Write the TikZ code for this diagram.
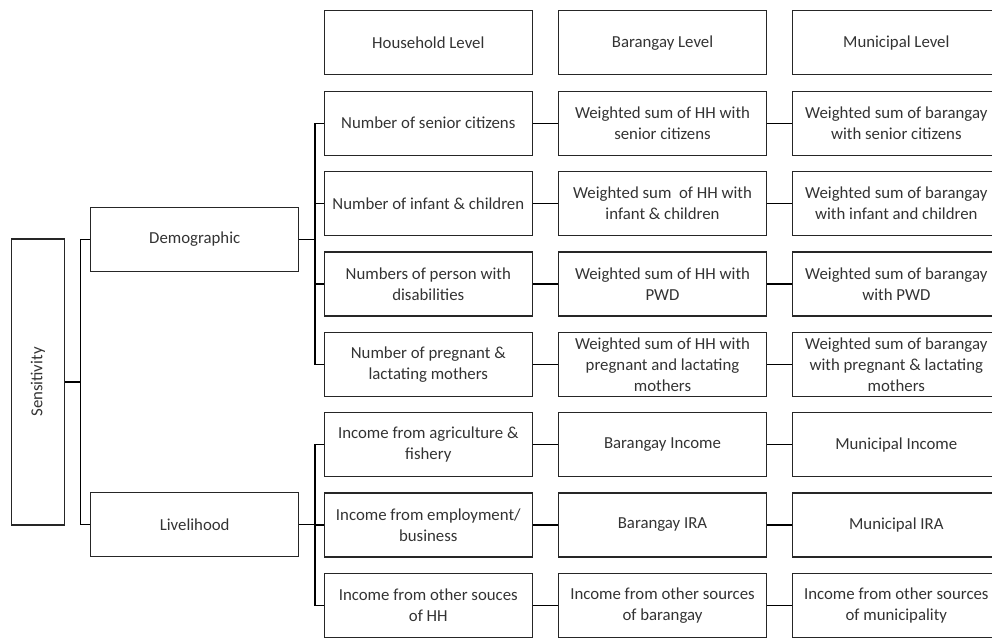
\documentclass[tikz,border=0pt]{standalone}
\usepackage{fontspec}
\setmainfont{Carlito}
\begin{document}
\begin{tikzpicture}[x=0.75pt,y=-0.75pt,
  box/.style={draw=black!85, line width=0.9pt, minimum width=156pt, minimum height=48pt,
    align=center, inner sep=0pt, text=black!80, font=\fontsize{12.6}{15.8}\selectfont},
  link/.style={draw=black, line width=0.9pt}]
\useasboundingbox (0,0) rectangle (992,637);

% bus positions
\coordinate (b0) at (80.7,0);
\coordinate (b1) at (315,0);

% root and first split
\node[box, minimum width=214.5pt, minimum height=39.5pt, rotate=90] (sens) at (38,382) {Sensitivity};
\node[box] (demo) at (194.7,239.3) {Demographic};
\node[box] (live) at (194.7,524.7) {Livelihood};

% column headers
\node[box] (h1) at (428.3,42.7) {Household Level};
\node[box] (h2) at (662.5,42.7) {Barangay Level};
\node[box] (h3) at (896.3,42.7) {Municipal Level};

% household level indicators
\node[box] (hh1) at (428.3,123.2) {Number of senior citizens};
\node[box] (hh2) at (428.3,203.6) {Number of infant \& children};
\node[box] (hh3) at (428.3,284.0) {Numbers of person with\\disabilities};
\node[box] (hh4) at (428.3,364.3) {Number of pregnant \&\\lactating mothers};
\node[box] (hh5) at (428.3,444.7) {Income from agriculture \&\\fishery};
\node[box] (hh6) at (428.3,525.0) {Income from employment/\\business};
\node[box] (hh7) at (428.3,605.4) {Income from other souces\\of HH};

% barangay level indicators
\node[box] (br1) at (662.5,123.2) {Weighted sum of HH with\\senior citizens};
\node[box] (br2) at (662.5,203.6) {Weighted sum \ of HH with\\infant \& children};
\node[box] (br3) at (662.5,284.0) {Weighted sum of HH with\\PWD};
\node[box] (br4) at (662.5,364.3) {Weighted sum of HH with\\pregnant and lactating\\mothers};
\node[box] (br5) at (662.5,444.7) {Barangay Income};
\node[box] (br6) at (662.5,525.0) {Barangay IRA};
\node[box] (br7) at (662.5,605.4) {Income from other sources\\of barangay};

% municipal level indicators
\node[box] (mu1) at (896.3,123.2) {Weighted sum of barangay\\with senior citizens};
\node[box] (mu2) at (896.3,203.6) {Weighted sum of barangay\\with infant and children};
\node[box] (mu3) at (896.3,284.0) {Weighted sum of barangay\\with PWD};
\node[box] (mu4) at (896.3,364.3) {Weighted sum of barangay\\with pregnant \& lactating\\mothers};
\node[box] (mu5) at (896.3,444.7) {Municipal Income};
\node[box] (mu6) at (896.3,525.0) {Municipal IRA};
\node[box] (mu7) at (896.3,605.4) {Income from other sources\\of municipality};

% root to first split
\draw[link] (sens.south) -- (sens.south -| b0);
\draw[link] (demo.west) -- (demo.west -| b0) -- (live.west -| b0) -- (live.west);

% demographic branch
\draw[link] (demo.east) -- (demo.east -| b1);
\draw[link] (hh1.west) -- (hh1.west -| b1) -- (hh4.west -| b1) -- (hh4.west);
\draw[link] (hh2.west) -- (hh2.west -| b1);
\draw[link] (hh3.west) -- (hh3.west -| b1);

% livelihood branch
\draw[link] (live.east) -- (live.east -| b1);
\draw[link] (hh5.west) -- (hh5.west -| b1) -- (hh7.west -| b1) -- (hh7.west);
\draw[link] (hh6.west) -- (hh6.west -| b1);

% level to level
\foreach \i in {1,...,7}{
  \draw[link] (hh\i.east) -- (br\i.west);
  \draw[link] (br\i.east) -- (mu\i.west);
}
\end{tikzpicture}
\end{document}
